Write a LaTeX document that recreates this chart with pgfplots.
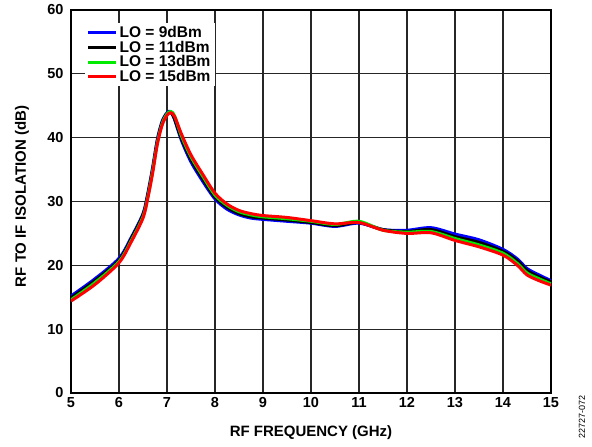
\documentclass[border=0pt]{standalone}
\usepackage{fontspec}
\setmainfont{Liberation Sans}
\usepackage{pgfplots}
\pgfplotsset{compat=1.18}
\usepackage{pgfplotstable}

\definecolor{loblue}{RGB}{0,0,255}
\definecolor{logreen}{RGB}{0,235,0}
\definecolor{lored}{RGB}{255,0,0}

% RF to IF isolation vs RF frequency, one table per LO drive level
\pgfplotstableread{
f v
5.0 15.2
5.5 17.9
6.0 21.1
6.25 24.3
6.5 28.1
6.6 31.3
6.7 35.3
6.8 39.8
6.9 42.6
7.0 43.9
7.07 44.1
7.15 43.0
7.3 39.6
7.5 36.2
7.75 33.1
8.0 30.4
8.25 28.8
8.5 27.9
8.75 27.4
9.0 27.2
9.5 26.9
10.0 26.6
10.5 26.1
11.0 26.6
11.5 25.6
12.0 25.5
12.5 25.9
13.0 24.9
13.5 24.0
14.0 22.5
14.3 21.0
14.5 19.5
14.75 18.5
15.0 17.6
}\loNine

\pgfplotstableread{
f v
5.0 14.9
5.5 17.6
6.0 20.8
6.25 24.1
6.5 27.9
6.6 31.0
6.7 35.0
6.8 39.5
6.9 42.4
7.0 43.8
7.07 44.0
7.15 43.1
7.3 39.9
7.5 36.6
7.75 33.5
8.0 30.7
8.25 29.1
8.5 28.1
8.75 27.6
9.0 27.4
9.5 27.1
10.0 26.7
10.5 26.2
11.0 26.7
11.5 25.6
12.0 25.3
12.5 25.6
13.0 24.5
13.5 23.6
14.0 22.2
14.3 20.7
14.5 19.2
14.75 18.2
15.0 17.4
}\loEleven

\pgfplotstableread{
f v
5.0 14.6
5.5 17.3
6.0 20.6
6.25 23.8
6.5 27.6
6.6 30.7
6.7 34.7
6.8 39.2
6.9 42.2
7.0 43.7
7.08 44.1
7.16 43.4
7.3 40.3
7.5 37.0
7.75 33.9
8.0 31.0
8.25 29.4
8.5 28.4
8.75 27.9
9.0 27.6
9.5 27.3
10.0 26.9
10.5 26.4
11.0 26.9
11.5 25.5
12.0 25.2
12.5 25.3
13.0 24.2
13.5 23.2
14.0 21.9
14.3 20.3
14.5 18.8
14.75 17.9
15.0 17.1
}\loThirteen

\pgfplotstableread{
f v
5.0 14.4
5.5 17.0
6.0 20.4
6.25 23.6
6.5 27.4
6.6 30.5
6.7 34.4
6.8 39.0
6.9 42.0
7.0 43.5
7.08 43.9
7.16 43.3
7.3 40.6
7.5 37.3
7.75 34.2
8.0 31.3
8.25 29.6
8.5 28.6
8.75 28.1
9.0 27.8
9.5 27.5
10.0 27.0
10.5 26.5
11.0 26.7
11.5 25.5
12.0 25.0
12.5 25.1
13.0 23.9
13.5 22.9
14.0 21.6
14.3 20.0
14.5 18.5
14.75 17.6
15.0 16.9
}\loFifteen

\begin{document}
\begin{tikzpicture}
\begin{axis}[
    name=ax,
    scale only axis,
    width=480pt, height=383pt,
    xmin=5, xmax=15, ymin=0, ymax=60,
    xtick={5,6,...,15},
    ytick={0,10,...,60},
    grid=major,
    major grid style={black!85, line width=1.1pt},
    axis line style={line width=1.4pt},
    major tick length=0pt,
    /pgf/number format/assume math mode=true,
    tick label style={font=\fontsize{14.5}{16}\selectfont\bfseries},
    xticklabel style={yshift=-1pt},
    yticklabel style={xshift=-4pt},
    xlabel={RF FREQUENCY (GHz)},
    ylabel={RF TO IF ISOLATION (dB)},
    label style={font=\fontsize{15}{17}\selectfont\bfseries},
    xlabel style={at={(axis description cs:0.5,-0.1044)}, anchor=center},
    ylabel style={at={(axis description cs:-0.102,0.513)}, anchor=center},
    legend style={at={(axis description cs:0.028,0.966)}, anchor=north west,
        draw=none, fill=white, inner xsep=2pt, inner ysep=1pt,
        font=\fontsize{15.5}{16}\selectfont\bfseries, row sep=-2pt},
    legend cell align=left,
    legend image code/.code={\draw[#1] (0pt,0pt) -- (28pt,0pt);},
    every axis plot/.append style={line width=3pt, smooth, tension=0.5},
  ]
  \addplot[loblue] table {\loNine};
  \addlegendentry{LO = 9dBm}
  \addplot[black] table {\loEleven};
  \addlegendentry{LO = 11dBm}
  \addplot[logreen] table {\loThirteen};
  \addlegendentry{LO = 13dBm}
  \addplot[lored] table {\loFifteen};
  \addlegendentry{LO = 15dBm}
\end{axis}
\node[rotate=90, font=\fontsize{9}{10}\selectfont] at ([shift={(511pt,-24pt)}]ax.south west) {22727-072};
\pgfresetboundingbox
\path[use as bounding box] ([shift={(-71pt,-54pt)}]ax.south west) rectangle ([shift={(521pt,393pt)}]ax.south west);
\end{tikzpicture}
\end{document}
